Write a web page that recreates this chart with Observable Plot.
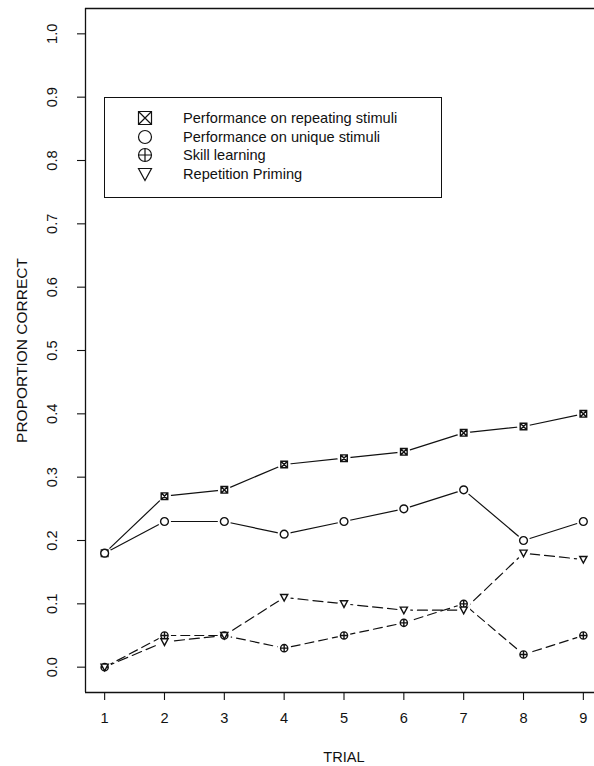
<!DOCTYPE html>
<html><head><meta charset="utf-8">
<script src="https://cdn.jsdelivr.net/npm/d3@7"></script>
<script src="https://cdn.jsdelivr.net/npm/@observablehq/plot@0.6"></script>
<style>
html,body{margin:0;padding:0;background:#fff;overflow:hidden;}
#wrap{position:relative;width:594px;height:766px;overflow:hidden;}
#wrap > svg{max-width:none !important;}
#legend{position:absolute;left:104px;top:97px;width:338px;height:101px;border:1.3px solid #111;box-sizing:border-box;background:#fff;font-family:"Liberation Sans",Arial,sans-serif;font-size:14.6px;color:#111;}
.row{position:absolute;left:0;height:18px;line-height:18px;white-space:nowrap;}
.row svg{position:absolute;left:29px;top:-2px;}
.row span{position:absolute;left:78px;top:0;}
</style></head><body><div id="wrap"></div>
<script>
// ---- data ----
const trials = [1, 2, 3, 4, 5, 6, 7, 8, 9];
const repeating = [0.18, 0.27, 0.28, 0.32, 0.33, 0.34, 0.37, 0.38, 0.40];
const unique    = [0.18, 0.23, 0.23, 0.21, 0.23, 0.25, 0.28, 0.20, 0.23];
const skill     = [0.00, 0.05, 0.05, 0.03, 0.05, 0.07, 0.10, 0.02, 0.05];
const priming   = [0.00, 0.04, 0.05, 0.11, 0.10, 0.09, 0.09, 0.18, 0.17];
const seriesNames = ["Performance on repeating stimuli", "Performance on unique stimuli", "Skill learning", "Repetition Priming"];
const yTicks = [0.0, 0.1, 0.2, 0.3, 0.4, 0.5, 0.6, 0.7, 0.8, 0.9, 1.0];
const xDomain = [0.68, 9.32];
const yDomain = [-0.04, 1.04];
const xLabel = "TRIAL";
const yLabel = "PROPORTION CORRECT";

// ---- symbols ----
const rOf = size => Math.sqrt(size / Math.PI);
const symBoxX = {draw(c, size){const r = rOf(size);
  c.moveTo(-r,-r); c.lineTo(r,-r); c.lineTo(r,r); c.lineTo(-r,r); c.closePath();
  c.moveTo(-r,-r); c.lineTo(r,r); c.moveTo(r,-r); c.lineTo(-r,r);}};
const symCircle = {draw(c, size){const r = rOf(size); c.moveTo(r,0); c.arc(0,0,r,0,2*Math.PI);}};
const symCirclePlus = {draw(c, size){const r = rOf(size); c.moveTo(r,0); c.arc(0,0,r,0,2*Math.PI);
  c.moveTo(-r,0); c.lineTo(r,0); c.moveTo(0,-r); c.lineTo(0,r);}};
const symTriDown = {draw(c, size){const r = rOf(size);
  c.moveTo(-r,-r*0.85); c.lineTo(r,-r*0.85); c.lineTo(0,r*1.0); c.closePath();}};

const series = [
  {name: seriesNames[0], values: repeating, symbol: symBoxX, dash: null, r: 3.3},
  {name: seriesNames[1], values: unique, symbol: symCircle, dash: null, r: 3.9},
  {name: seriesNames[2], values: skill, symbol: symCirclePlus, dash: "9,5", r: 3.6},
  {name: seriesNames[3], values: priming, symbol: symTriDown, dash: "10,5", r: 3.6}
];
const rows = s => trials.map((t, i) => ({trial: t, value: s.values[i], series: s.name}));
const allRows = series.flatMap(rows);

const ink = "#111";
const plot = Plot.plot({
  width: 602, height: 766,
  marginLeft: 85, marginRight: 0, marginTop: 8, marginBottom: 74,
  x: {domain: xDomain},
  y: {domain: yDomain},
  style: {fontFamily: "Liberation Sans, Arial, sans-serif", fontSize: "14.6px", color: ink, background: "#fff"},
  marks: [
    Plot.axisX({ticks: trials, tickSize: 8, tickPadding: 12, label: null, tickFormat: d => String(d), strokeWidth: 1.1}),
    Plot.axisY({ticks: yTicks, tickSize: 8, tickFormat: () => "", label: null, strokeWidth: 1.1}),
    Plot.text(yTicks, {y: d => d, text: d => d3.format(".1f")(d), frameAnchor: "left", dx: -33, rotate: -90, textAnchor: "middle", lineAnchor: "middle", fill: ink}),
    Plot.text([yLabel], {frameAnchor: "left", dx: -63, rotate: -90, textAnchor: "middle", lineAnchor: "middle", fill: ink, fontSize: 15.5}),
    Plot.text([xLabel], {frameAnchor: "bottom", dy: 65, textAnchor: "middle", lineAnchor: "middle", fill: ink}),
    ...series.map(s => Plot.line(rows(s), {x: "trial", y: "value", stroke: ink, strokeWidth: 1.2, strokeDasharray: s.dash})),
    Plot.dot(allRows, {x: "trial", y: "value", r: 6.5, fill: "white", stroke: null}),
    ...series.map(s => Plot.dot(rows(s), {x: "trial", y: "value", symbol: s.symbol, r: s.r, stroke: ink, strokeWidth: 1.4, fill: "white"})),
    Plot.ruleY(yDomain, {stroke: ink, strokeWidth: 1.3}),
    Plot.ruleX([xDomain[0]], {stroke: ink, strokeWidth: 1.3})
  ]
});
plot.style.maxWidth = "none";
const wrap = document.getElementById("wrap");
wrap.appendChild(plot);

// ---- legend ----
const legend = document.createElement("div");
legend.id = "legend";
series.forEach((s, i) => {
  const row = document.createElement("div");
  row.className = "row";
  row.style.top = (11 + i * 18.7) + "px";
  const path = d3.symbol(s.symbol, Math.PI * 6.5 * 6.5)();
  row.innerHTML = `<svg width="22" height="22" viewBox="-11 -11 22 22"><path d="${path}" fill="none" stroke="${ink}" stroke-width="1.2"/></svg><span>${s.name}</span>`;
  legend.appendChild(row);
});
wrap.appendChild(legend);
</script>
</body></html>
